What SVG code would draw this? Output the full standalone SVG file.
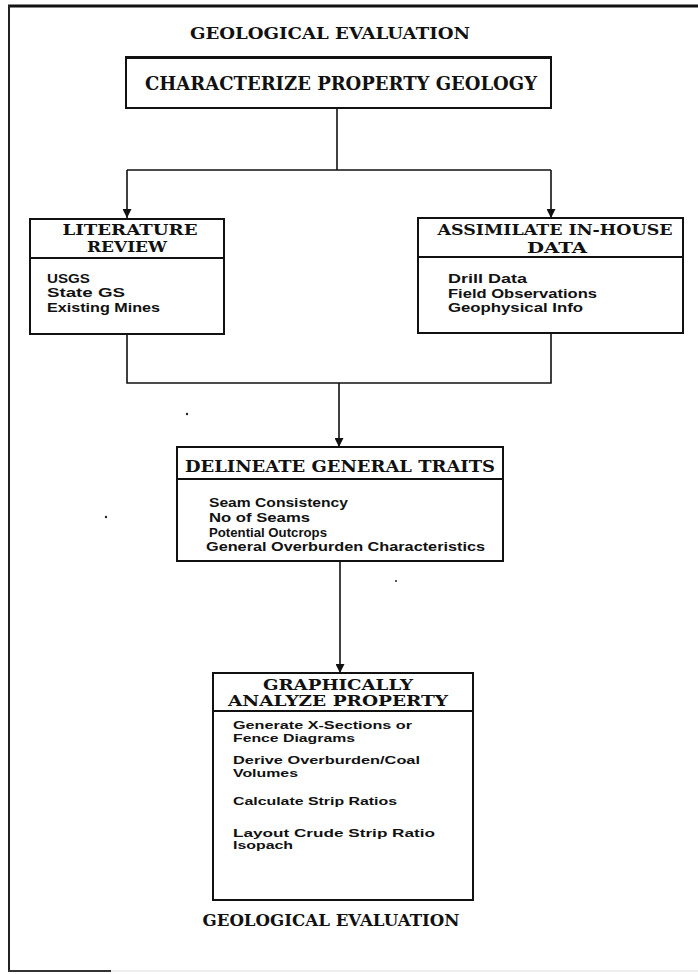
<svg xmlns="http://www.w3.org/2000/svg" width="698" height="974" viewBox="0 0 698 974">
<defs>
<marker id="arr" viewBox="0 0 10 10" refX="10" refY="5" markerWidth="9" markerHeight="9" markerUnits="userSpaceOnUse" orient="auto">
<path d="M0,0 L10,5 L0,10 Z" fill="#111"/>
</marker>
<style>
.box{fill:#fff;stroke:#111;stroke-width:2}
.div{stroke:#111;stroke-width:2}
.con{fill:none;stroke:#111;stroke-width:1.6}
.hd{font-family:"DejaVu Serif","Liberation Serif",serif;font-weight:bold;fill:#111;text-anchor:middle}
.tt{font-family:"DejaVu Serif","Liberation Serif",serif;font-weight:bold;fill:#111;text-anchor:middle;font-size:16px}
.bd{font-family:"Liberation Sans",Arial,sans-serif;font-weight:bold;fill:#111;font-size:12px}
.bs{font-family:"Liberation Sans",Arial,sans-serif;font-weight:bold;fill:#111;font-size:11px}
</style>
</defs>
<rect width="698" height="974" fill="#fff"/>
<g id="frame">
<line x1="8" y1="6" x2="698" y2="6" stroke="#111" stroke-width="3"/>
<line x1="9" y1="5" x2="9" y2="972" stroke="#222" stroke-width="2"/>
<line x1="8" y1="971" x2="111" y2="971" stroke="#333" stroke-width="2"/>
<line x1="111" y1="971" x2="698" y2="971" stroke="#ddd" stroke-width="1"/>
</g>
<g id="title-top">
<text class="tt" x="330" y="39" textLength="280" lengthAdjust="spacingAndGlyphs">GEOLOGICAL EVALUATION</text>
</g>
<g id="connectors">
<path class="con" d="M337,108 V170"/>
<path class="con" d="M127,170 H551"/>
<path class="con" d="M127,170 V218" marker-end="url(#arr)"/>
<path class="con" d="M551,170 V218" marker-end="url(#arr)"/>
<path class="con" d="M127,334 V383 H551 V333"/>
<path class="con" d="M339,383 V447" marker-end="url(#arr)"/>
<path class="con" d="M340,561 V673" marker-end="url(#arr)"/>
</g>
<g id="characterize">
<rect class="box" x="126" y="57" width="425" height="51"/>
<line x1="126" y1="58" x2="551" y2="58" stroke="#111" stroke-width="2"/>
<text class="hd" x="341" y="90" font-size="18" textLength="392" lengthAdjust="spacingAndGlyphs">CHARACTERIZE PROPERTY GEOLOGY</text>
</g>
<g id="literature">
<rect class="box" x="30" y="219" width="194" height="115"/>
<line class="div" x1="30" y1="258" x2="224" y2="258"/>
<text class="hd" x="130" y="235" font-size="15" textLength="135" lengthAdjust="spacingAndGlyphs">LITERATURE</text>
<text class="hd" x="127" y="252" font-size="15" textLength="80" lengthAdjust="spacingAndGlyphs">REVIEW</text>
<text class="bd" x="47" y="283" textLength="43" lengthAdjust="spacingAndGlyphs">USGS</text>
<text class="bd" x="47" y="297" textLength="78" lengthAdjust="spacingAndGlyphs">State GS</text>
<text class="bd" x="47" y="312" textLength="113" lengthAdjust="spacingAndGlyphs">Existing Mines</text>
</g>
<g id="assimilate">
<rect class="box" x="418" y="218" width="265" height="115"/>
<line class="div" x1="418" y1="257" x2="683" y2="257"/>
<text class="hd" x="555" y="235" font-size="15" textLength="235" lengthAdjust="spacingAndGlyphs">ASSIMILATE IN-HOUSE</text>
<text class="hd" x="557" y="253" font-size="15" textLength="60" lengthAdjust="spacingAndGlyphs">DATA</text>
<text class="bd" x="448" y="283" textLength="79" lengthAdjust="spacingAndGlyphs">Drill Data</text>
<text class="bd" x="448" y="298" textLength="149" lengthAdjust="spacingAndGlyphs">Field Observations</text>
<text class="bd" x="448" y="312" textLength="135" lengthAdjust="spacingAndGlyphs">Geophysical Info</text>
</g>
<g id="delineate">
<rect class="box" x="177" y="447" width="326" height="114"/>
<line class="div" x1="177" y1="479" x2="503" y2="479"/>
<text class="hd" x="340" y="472" font-size="17" textLength="310" lengthAdjust="spacingAndGlyphs">DELINEATE GENERAL TRAITS</text>
<text class="bd" x="209" y="507" textLength="139" lengthAdjust="spacingAndGlyphs">Seam Consistency</text>
<text class="bd" x="209" y="522" textLength="101" lengthAdjust="spacingAndGlyphs">No of Seams</text>
<text class="bd" x="209" y="537" font-size="13" style="font-size:13px" textLength="118" lengthAdjust="spacingAndGlyphs">Potential Outcrops</text>
<text class="bd" x="206" y="551" textLength="279" lengthAdjust="spacingAndGlyphs">General Overburden Characteristics</text>
</g>
<g id="graphically">
<rect class="box" x="213" y="673" width="260" height="227"/>
<line class="div" x1="213" y1="711" x2="473" y2="711"/>
<text class="hd" x="338" y="690" font-size="14.5" textLength="150" lengthAdjust="spacingAndGlyphs">GRAPHICALLY</text>
<text class="hd" x="338" y="706" font-size="14.5" textLength="220" lengthAdjust="spacingAndGlyphs">ANALYZE PROPERTY</text>
<text class="bs" x="233" y="729" textLength="179" lengthAdjust="spacingAndGlyphs">Generate X-Sections or</text>
<text class="bs" x="233" y="742" textLength="122" lengthAdjust="spacingAndGlyphs">Fence Diagrams</text>
<text class="bs" x="233" y="764" textLength="187" lengthAdjust="spacingAndGlyphs">Derive Overburden/Coal</text>
<text class="bs" x="233" y="777" textLength="65" lengthAdjust="spacingAndGlyphs">Volumes</text>
<text class="bs" x="233" y="805" textLength="164" lengthAdjust="spacingAndGlyphs">Calculate Strip Ratios</text>
<text class="bs" x="233" y="837" textLength="202" lengthAdjust="spacingAndGlyphs">Layout Crude Strip Ratio</text>
<text class="bs" x="233" y="849" textLength="60" lengthAdjust="spacingAndGlyphs">Isopach</text>
</g>
<g id="title-bottom">
<text class="tt" x="331" y="926" textLength="257" lengthAdjust="spacingAndGlyphs">GEOLOGICAL EVALUATION</text>
</g>
<g id="specks" fill="#222">
<circle cx="187" cy="414" r="1.2"/>
<circle cx="106" cy="517" r="1.2"/>
<circle cx="396" cy="581" r="1"/>
</g>
</svg>
